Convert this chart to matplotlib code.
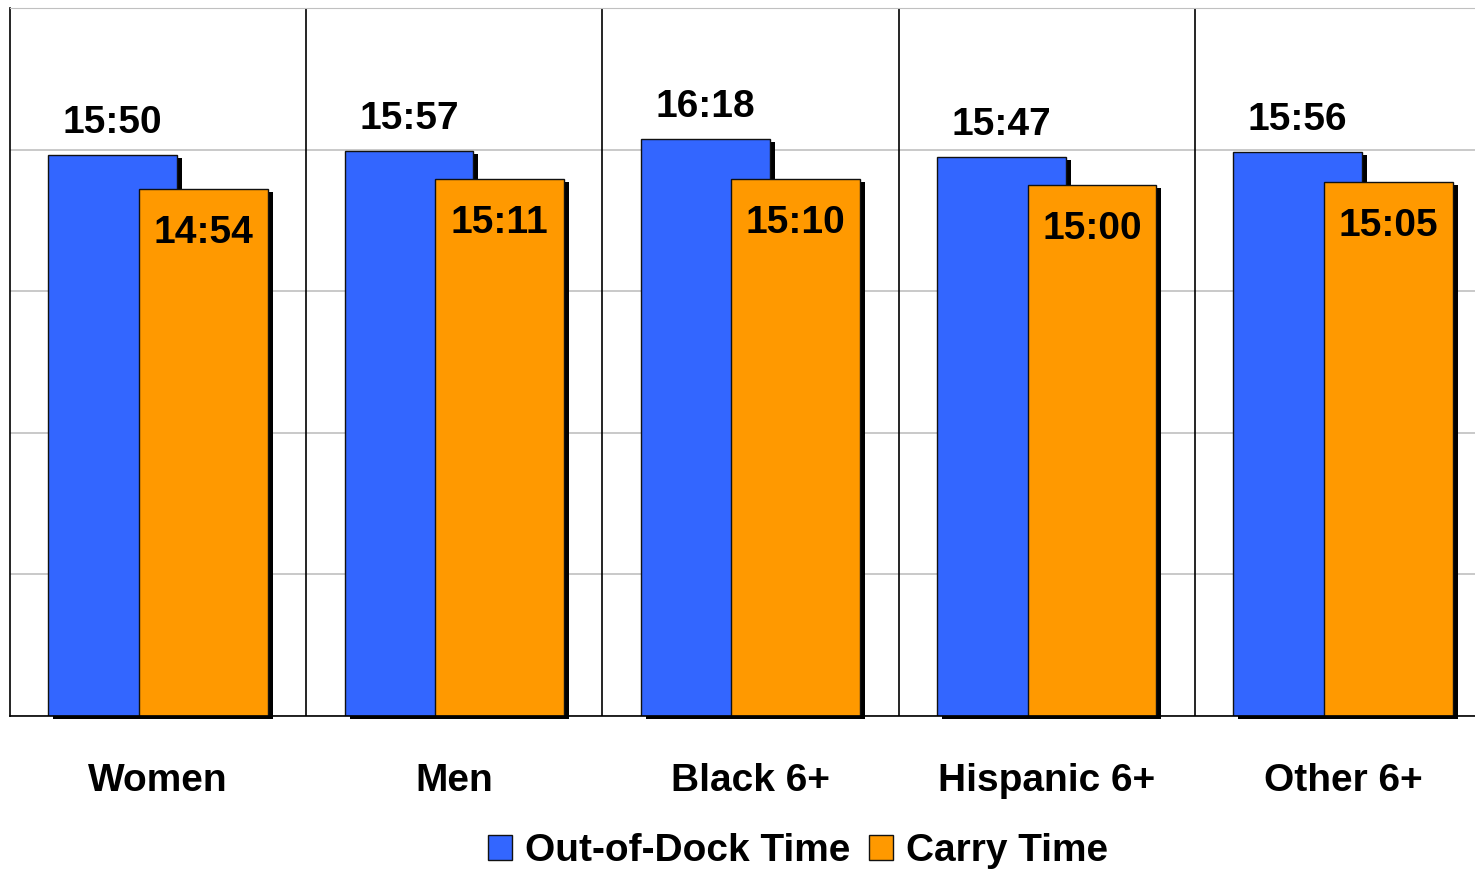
import matplotlib
matplotlib.use("Agg")
import matplotlib.pyplot as plt
from matplotlib.transforms import offset_copy

plt.rcParams['font.family'] = ['Liberation Sans', 'DejaVu Sans']
plt.rcParams['font.weight'] = 'bold'

categories = ['Women', 'Men', 'Black 6+', 'Hispanic 6+', 'Other 6+']
out_of_dock = ['15:50', '15:57', '16:18', '15:47', '15:56']
carry = ['14:54', '15:11', '15:10', '15:00', '15:05']


def to_sec(t):
    m, s = t.split(':')
    return int(m) * 60 + int(s)


ood_sec = [to_sec(t) for t in out_of_dock]
carry_sec = [to_sec(t) for t in carry]

blue = '#3366FF'
orange = '#FF9900'

fig = plt.figure(figsize=(14.75, 8.69), dpi=100)
ax = fig.add_axes([10 / 1475, 1 - 716 / 869, 1481 / 1475, 708 / 869])

x = list(range(len(categories)))
w = 0.435
off = 0.153
xb = [i - off for i in x]
xo = [i + off for i in x]

shadow = offset_copy(ax.transData, fig=fig, x=5, y=-3, units='dots')

ax.bar(xb, ood_sec, w, color='black', transform=shadow, clip_on=False, zorder=2)
ax.bar(xb, ood_sec, w, color=blue, edgecolor='#111111', linewidth=1, zorder=3,
       label='Out-of-Dock Time')
ax.bar(xo, carry_sec, w, color='black', transform=shadow, clip_on=False, zorder=4)
ax.bar(xo, carry_sec, w, color=orange, edgecolor='#111111', linewidth=1, zorder=5,
       label='Carry Time')

for i in x:
    ax.annotate(out_of_dock[i], (xb[i], ood_sec[i]), xytext=(0, 32),
                textcoords='offset pixels', ha='center', va='center',
                fontsize=28, fontweight='bold', zorder=6)
    ax.annotate(carry[i], (xo[i], carry_sec[i]), xytext=(0, -44),
                textcoords='offset pixels', ha='center', va='center',
                fontsize=28, fontweight='bold', zorder=6)

for i in range(len(categories) - 1):
    ax.axvline(i + 0.5, color='black', linewidth=1.2, zorder=1)

ax.set_xlim(-0.5, len(categories) - 0.5)
ax.set_ylim(0, 1200)
ax.set_yticks(range(0, 1201, 240))
ax.yaxis.grid(True, color='#c0c0c0', linewidth=1.2)
ax.set_axisbelow(True)
ax.tick_params(axis='y', left=False, labelleft=False)
ax.tick_params(axis='x', length=0, pad=34)
ax.set_xticks(x)
ax.set_xticklabels(categories, fontsize=28, fontweight='bold')

ax.spines['top'].set_color('#c0c0c0')
ax.spines['right'].set_visible(False)
ax.spines['left'].set_linewidth(1.2)
ax.spines['bottom'].set_linewidth(1.2)
ax.spines['bottom'].set_zorder(7)

fig.legend(loc='center', bbox_to_anchor=(798 / 1475, 1 - 851 / 869), ncol=2,
           frameon=False, fontsize=28, handlelength=0.62, handleheight=0.62,
           handletextpad=0.33, columnspacing=0.5, borderpad=0)

fig.savefig('out.png', dpi=100)
